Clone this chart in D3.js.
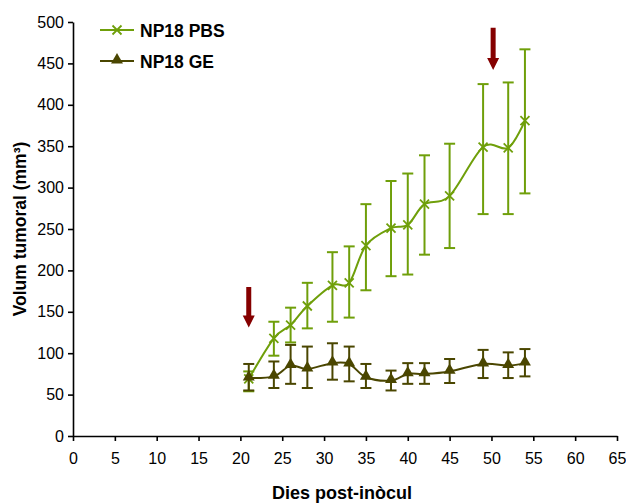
<!DOCTYPE html>
<html>
<head>
<meta charset="utf-8">
<script src="https://cdn.jsdelivr.net/npm/d3@7"></script>
<style>
  html, body { margin: 0; padding: 0; background: #fff; }
  svg text { font-family: "Liberation Sans", Arial, sans-serif; }
</style>
</head>
<body>
<svg id="chart" width="626" height="504"></svg>
<script>
// Days after inoculation
const days = [21, 24, 26, 28, 31, 33, 35, 38, 40, 42, 45, 49, 52, 54];

// Tumour volume (mm³), means with upper / lower error limits
const pbsMean  = [69, 118, 134, 157, 182, 185, 230, 251, 255, 280, 290, 349, 348, 381];
const pbsUpper = [78, 138, 155, 185, 222, 229, 280, 308, 317, 339, 353, 425, 427, 467];
const pbsLower = [54, 97, 113, 130, 138, 143, 176, 193, 195, 219, 227, 268, 268, 293];

const geMean  = [70, 72, 85, 81, 88, 87, 71, 67, 75, 75, 78, 87, 85, 88];
const geUpper = [87, 90, 110, 108, 112, 108, 87, 79, 88, 88, 93, 104, 101, 105];
const geLower = [55, 58, 63, 58, 68, 66, 58, 55, 63, 63, 64, 70, 70, 72];

// Treatment arrows: day, top and tip volume
const arrowDays = [21, 50.2];
const arrowTop  = [180, 493];
const arrowTip  = [131, 442];

const xTicks = [0, 5, 10, 15, 20, 25, 30, 35, 40, 45, 50, 55, 60, 65];
const yTicks = [0, 50, 100, 150, 200, 250, 300, 350, 400, 450, 500];

const seriesNames = ["NP18 PBS", "NP18 GE"];
const pbsColor = "#6f9f0a";
const geColor = "#4a4600";
const arrowColor = "#850000";

const svg = d3.select("#chart");
const x = d3.scaleLinear().domain([0, 65]).range([73, 617]);
const y = d3.scaleLinear().domain([0, 500]).range([436, 22]);

// Axes
const xAxis = svg.append("g").attr("transform", `translate(0,${y(0)})`)
  .call(d3.axisBottom(x).tickValues(xTicks).tickSize(5).tickSizeOuter(0).tickPadding(12));
const yAxis = svg.append("g").attr("transform", `translate(${x(0)},0)`)
  .call(d3.axisLeft(y).tickValues(yTicks).tickSize(5).tickSizeOuter(0).tickPadding(4));
[xAxis, yAxis].forEach(g => {
  g.selectAll("path, line").attr("stroke", "#000").attr("stroke-width", 1.6);
  g.selectAll("text").attr("fill", "#000").style("font-size", "16px");
});

// Axis titles
svg.append("text").attr("x", 342).attr("y", 499).attr("text-anchor", "middle")
  .style("font-size", "18px").style("font-weight", "bold").text("Dies post-inòcul");
svg.append("text").attr("transform", "translate(26,229) rotate(-90)").attr("text-anchor", "middle")
  .style("font-size", "17.5px").style("font-weight", "bold")
  .text("Volum tumoral (mm³)");

const line = d3.line().x(d => x(d[0])).y(d => y(d[1])).curve(d3.curveCardinal.tension(0));

function drawSeries(mean, upper, lower, color, marker) {
  const g = svg.append("g");
  // error bars
  days.forEach((d, i) => {
    const cx = x(d);
    g.append("line").attr("x1", cx).attr("x2", cx).attr("y1", y(upper[i])).attr("y2", y(lower[i]))
      .attr("stroke", color).attr("stroke-width", 2);
    [upper[i], lower[i]].forEach(v => {
      g.append("line").attr("x1", cx - 5.5).attr("x2", cx + 5.5).attr("y1", y(v)).attr("y2", y(v))
        .attr("stroke", color).attr("stroke-width", 2);
    });
  });
  g.append("path").datum(days.map((d, i) => [d, mean[i]])).attr("d", line)
    .attr("fill", "none").attr("stroke", color).attr("stroke-width", 2);
  days.forEach((d, i) => marker(g, x(d), y(mean[i]), color));
}

function crossMarker(g, cx, cy, color) {
  const s = 4.5;
  g.append("path").attr("d", `M${cx - s},${cy - s}L${cx + s},${cy + s}M${cx - s},${cy + s}L${cx + s},${cy - s}`)
    .attr("stroke", color).attr("stroke-width", 1.8).attr("fill", "none");
}
function triMarker(g, cx, cy, color) {
  g.append("path").attr("d", d3.symbol().type(d3.symbolTriangle).size(62)())
    .attr("transform", `translate(${cx},${cy - 1})`).attr("fill", color);
}

drawSeries(pbsMean, pbsUpper, pbsLower, pbsColor, crossMarker);
drawSeries(geMean, geUpper, geLower, geColor, triMarker);

// Arrows
arrowDays.forEach((d, i) => {
  const cx = x(d), yt = y(arrowTop[i]), yp = y(arrowTip[i]);
  svg.append("path")
    .attr("d", `M${cx - 2.5},${yt}L${cx + 2.5},${yt}L${cx + 2.5},${yp - 12}L${cx + 6},${yp - 12}L${cx},${yp}L${cx - 6},${yp - 12}L${cx - 2.5},${yp - 12}Z`)
    .attr("fill", arrowColor);
});

// Legend
const legend = svg.append("g");
[[seriesNames[0], pbsColor, crossMarker, 30], [seriesNames[1], geColor, triMarker, 61]].forEach(([name, color, mk, ly]) => {
  legend.append("line").attr("x1", 100).attr("x2", 134).attr("y1", ly).attr("y2", ly)
    .attr("stroke", color).attr("stroke-width", 2);
  mk(legend, 117, ly, color);
  legend.append("text").attr("x", 140).attr("y", ly + 6.5).style("font-size", "17.5px")
    .style("font-weight", "bold").text(name);
});
</script>
</body>
</html>
